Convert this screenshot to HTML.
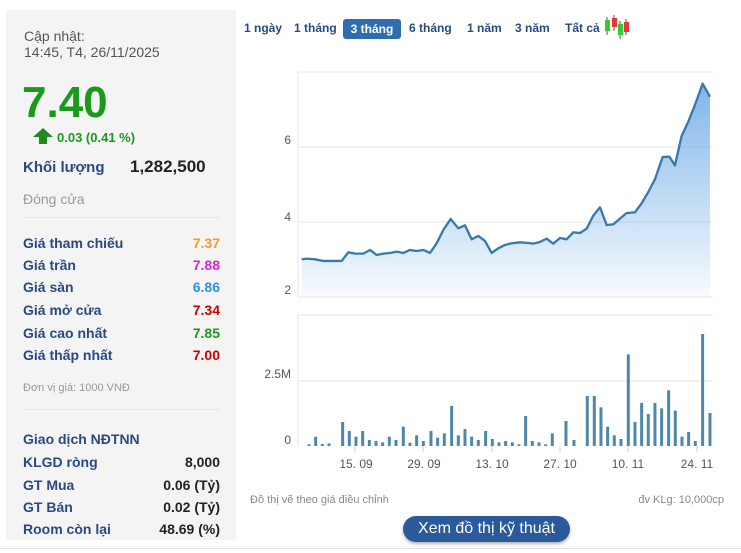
<!DOCTYPE html>
<html><head><meta charset="utf-8"><style>
body{margin:0;width:741px;height:553px;background:#fff;font-family:"Liberation Sans",Arial,sans-serif;position:relative;overflow:hidden}
.p{position:absolute;left:6px;top:10px;width:230px;height:530px;background:#f4f4f4}
.a{position:absolute;white-space:nowrap}
.l{color:#2a4a7f;font-weight:bold;font-size:14px;left:23px}
.r{font-weight:bold;font-size:14px;right:521px;text-align:right}
.tab{position:absolute;top:21px;font-size:12px;font-weight:bold;color:#2a4a7f}
</style></head><body>
<div class="p"></div>
<div class="a" style="left:24px;top:28px;font-size:14px;color:#555;line-height:16px">Cập nhật:<br>14:45, T4, 26/11/2025</div>
<div class="a" style="left:22px;top:78px;font-size:44px;font-weight:bold;color:#1a9a1a">7.40</div>
<svg class="a" style="left:33px;top:128px" width="20" height="16"><polygon points="10,0 20,9 14,9 14,16 6,16 6,9 0,9" fill="#1f8a1f"/></svg>
<div class="a" style="left:57px;top:130px;font-size:13px;font-weight:bold;color:#1a9a1a">0.03 (0.41 %)</div>
<div class="a l" style="top:159px;font-size:15px">Khối lượng</div>
<div class="a" style="left:130px;top:157px;font-size:17px;font-weight:bold;color:#222">1,282,500</div>
<div class="a" style="left:23px;top:191px;font-size:14px;color:#999">Đóng cửa</div>
<div class="a" style="left:23px;top:217px;width:197px;border-top:1px solid #e4e4e4"></div>
<div class="a l" style="top:235px">Giá tham chiếu</div><div class="a r" style="top:235px;color:#f39b1c">7.37</div>
<div class="a l" style="top:257px">Giá trần</div><div class="a r" style="top:257px;color:#e020e0">7.88</div>
<div class="a l" style="top:279px">Giá sàn</div><div class="a r" style="top:279px;color:#2a95e0">6.86</div>
<div class="a l" style="top:302px">Giá mở cửa</div><div class="a r" style="top:302px;color:#c00">7.34</div>
<div class="a l" style="top:325px">Giá cao nhất</div><div class="a r" style="top:325px;color:#1a9a1a">7.85</div>
<div class="a l" style="top:347px">Giá thấp nhất</div><div class="a r" style="top:347px;color:#c00">7.00</div>
<div class="a" style="left:23px;top:382px;font-size:11px;color:#999">Đơn vị giá: 1000 VNĐ</div>
<div class="a" style="left:23px;top:409px;width:197px;border-top:1px solid #e4e4e4"></div>
<div class="a l" style="top:431px">Giao dịch NĐTNN</div>
<div class="a l" style="top:454px">KLGD ròng</div><div class="a r" style="top:454px;color:#222">8,000</div>
<div class="a l" style="top:477px">GT Mua</div><div class="a r" style="top:477px;color:#222">0.06 (Tỷ)</div>
<div class="a l" style="top:499px">GT Bán</div><div class="a r" style="top:499px;color:#222">0.02 (Tỷ)</div>
<div class="a l" style="top:521px">Room còn lại</div><div class="a r" style="top:521px;color:#222">48.69 (%)</div>
<div class="a" style="left:0;top:548px;width:741px;border-top:1px solid #e4e4e4"></div>

<div class="tab" style="left:244px">1 ngày</div>
<div class="tab" style="left:294px">1 tháng</div>
<div class="a" style="left:343px;top:19px;width:58px;height:20px;background:#2f6db0;border-radius:3px;color:#fff;font-size:12px;font-weight:bold;text-align:center;line-height:20px">3 tháng</div>
<div class="tab" style="left:409px">6 tháng</div>
<div class="tab" style="left:467px">1 năm</div>
<div class="tab" style="left:515px">3 năm</div>
<div class="tab" style="left:565px">Tất cả</div>
<svg class="a" style="left:604px;top:15px" width="26" height="24"><line x1="3" y1="2" x2="3" y2="20" stroke="#555"/><rect x="1" y="5" width="5" height="11" fill="#3c3"/><line x1="10" y1="0" x2="10" y2="16" stroke="#555"/><rect x="8" y="3" width="5" height="9" fill="#e33"/><line x1="16" y1="6" x2="16" y2="24" stroke="#555"/><rect x="14" y="9" width="5" height="11" fill="#3c3"/><line x1="22" y1="4" x2="22" y2="20" stroke="#555"/><rect x="20" y="7" width="5" height="10" fill="#e33"/></svg>

<svg class="a" style="left:0;top:0" width="741" height="553">
<defs><linearGradient id="g" x1="0" y1="0" x2="0" y2="1"><stop offset="0" stop-color="#6aa8e6" stop-opacity="0.85"/><stop offset="1" stop-color="#6aa8e6" stop-opacity="0.05"/></linearGradient></defs>
<g stroke="#e6e6e6" stroke-width="1"><line x1="298" y1="72" x2="713" y2="72"/><line x1="298" y1="147" x2="713" y2="147"/><line x1="298" y1="222" x2="713" y2="222"/><line x1="298" y1="297" x2="713" y2="297"/><line x1="298" y1="72" x2="298" y2="297"/>
<line x1="298" y1="315" x2="713" y2="315"/><line x1="298" y1="381" x2="713" y2="381"/><line x1="298" y1="315" x2="298" y2="446"/></g>
<g font-size="12" fill="#555" text-anchor="end" font-family="Liberation Sans"><text x="291" y="144">6</text><text x="291" y="221">4</text><text x="291" y="294">2</text><text x="291" y="378">2.5M</text><text x="291" y="444">0</text></g>
<g transform="translate(240,10) scale(0.3333)">
<path fill="url(#g)" d="M185,748 L200,746 225,748 250,753 305,753 325,727 345,731 370,731 390,720 410,735 430,731 450,729 470,725 490,729 510,720 530,723 550,720 570,729 590,700 610,660 632,627 655,655 675,646 695,688 715,678 735,693 755,729 775,715 795,705 815,700 840,697 865,699 880,701 900,696 920,686 940,701 960,684 980,688 1000,667 1020,669 1040,656 1060,617 1080,592 1100,645 1120,643 1140,626 1160,609 1185,607 1205,580 1225,546 1245,508 1268,441 1288,440 1305,466 1325,378 1345,335 1365,285 1388,221 1410,260 L1410,858 L185,858Z"/>
<path fill="none" stroke="#3a79ad" stroke-width="7" stroke-linejoin="round" d="M185,748 L200,746 225,748 250,753 305,753 325,727 345,731 370,731 390,720 410,735 430,731 450,729 470,725 490,729 510,720 530,723 550,720 570,729 590,700 610,660 632,627 655,655 675,646 695,688 715,678 735,693 755,729 775,715 795,705 815,700 840,697 865,699 880,701 900,696 920,686 940,701 960,684 980,688 1000,667 1020,669 1040,656 1060,617 1080,592 1100,645 1120,643 1140,626 1160,609 1185,607 1205,580 1225,546 1245,508 1268,441 1288,440 1305,466 1325,378 1345,335 1365,285 1388,221 1410,260"/>
</g>
<g transform="translate(240,300) scale(0.3333)" fill="#4d88ab" id="bars"></g>
<g stroke="#ccc"><line x1="355" y1="446" x2="355" y2="452"/><line x1="423" y1="446" x2="423" y2="452"/><line x1="492" y1="446" x2="492" y2="452"/><line x1="560" y1="446" x2="560" y2="452"/><line x1="628" y1="446" x2="628" y2="452"/><line x1="697" y1="446" x2="697" y2="452"/></g>
<g font-size="12" fill="#555" text-anchor="middle" font-family="Liberation Sans"><text x="356" y="468">15. 09</text><text x="424" y="468">29. 09</text><text x="492" y="468">13. 10</text><text x="560" y="468">27. 10</text><text x="628" y="468">10. 11</text><text x="697" y="468">24. 11</text></g>
<text x="250" y="503" font-size="11" fill="#888" font-family="Liberation Sans">Đồ thị vẽ theo giá điều chỉnh</text>
<text x="724" y="503" font-size="11" fill="#888" text-anchor="end" font-family="Liberation Sans">đv KLg: 10,000cp</text>
</svg>
<div class="a" style="left:403px;top:516px;width:167px;height:26px;border-radius:13px;background:#2a5a9a;color:#fff;font-size:16px;text-align:center;line-height:25px;box-shadow:0 2px 3px rgba(0,0,0,.3)">Xem đồ thị kỹ thuật</div>
<script>
var b=[[207,433],[227,410],[247,432],[267,430],[308,366],[328,393],[348,410],[368,393],[388,420],[408,423],[428,427],[448,410],[468,420],[490,380],[510,428],[530,406],[550,423],[573,393],[593,413],[613,400],[635,318],[655,406],[675,387],[695,410],[715,420],[737,393],[757,417],[777,427],[797,423],[817,427],[837,433],[857,348],[877,423],[897,427],[917,433],[937,400],[978,363],[1002,420],[1042,288],[1063,288],[1083,322],[1103,380],[1123,406],[1143,417],[1165,163],[1185,366],[1205,309],[1225,342],[1245,309],[1265,325],[1286,271],[1306,332],[1326,410],[1346,396],[1366,423],[1388,102],[1410,339]];
var g=document.getElementById('bars'),s='';
b.forEach(function(p){s+='<rect x="'+(p[0]-4.5)+'" y="'+p[1]+'" width="9" height="'+(438-p[1])+'"/>';});
g.innerHTML=s;
</script>
</body></html>
